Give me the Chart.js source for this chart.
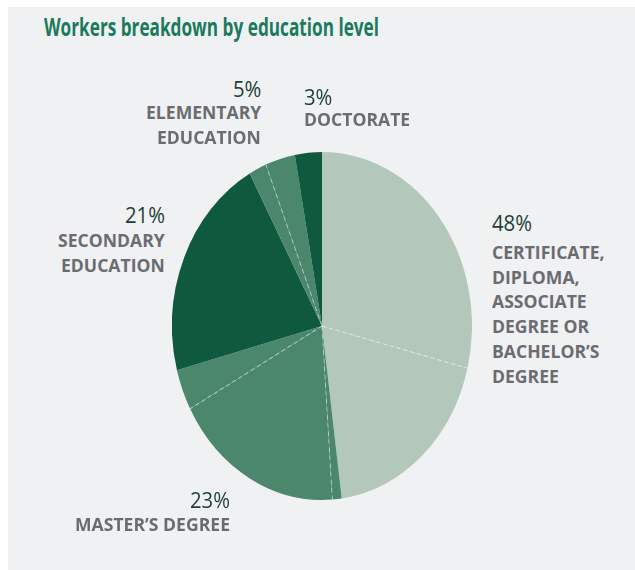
<!DOCTYPE html>
<html>
<head>
<meta charset="utf-8">
<script src="https://cdn.jsdelivr.net/npm/chart.js@4/dist/chart.umd.min.js"></script>
<style>
  html, body { margin: 0; padding: 0; background: #ffffff; }
  body { width: 635px; height: 570px; position: relative; overflow: hidden; }
  #panel { position: absolute; left: 8px; top: 7px; width: 627px; height: 563px; background: #f0f1f3; }
  #pieBox { position: absolute; left: 172px; top: 146px; width: 300px; height: 360px; }
  .t { position: absolute; white-space: nowrap; transform-origin: 0 0; }
</style>
</head>
<body>
<div id="panel"></div>
<div id="pieBox"><canvas id="c" width="300" height="360"></canvas></div>
<div id="labels"></div>
<script>
// ---- data ----
const title = 'Workers breakdown by education level';
const categories = [
  ['CERTIFICATE,', 'DIPLOMA,', 'ASSOCIATE', 'DEGREE OR', 'BACHELOR\u2019S', 'DEGREE'],
  ['MASTER\u2019S DEGREE'],
  ['SECONDARY', 'EDUCATION'],
  ['ELEMENTARY', 'EDUCATION'],
  ['DOCTORATE']
];
const shares = [48, 23, 21, 5, 3];
// the pie is split into sub-segments (separated by faint dashed lines)
const segmentCategory = [0, 0, 1, 1, 1, 2, 3, 3, 4];
const segmentValues = [28.9, 19.0, 1.0, 18.2, 3.8, 21.1, 1.9, 3.2, 2.9];

// ---- styles ----
const catColors = ['#b3c7bb', '#4b876c', '#0f5a3f', '#4b876c', '#0f5a3f'];
const Y_STRETCH = 174 / 150;

const ellipsePlugin = {
  id: 'ellipse',
  beforeDatasetsDraw(chart) {
    const ctx = chart.ctx;
    const a = chart.getDatasetMeta(0).data[0];
    ctx.save();
    ctx.translate(a.x, a.y);
    ctx.scale(1, Y_STRETCH);
    ctx.translate(-a.x, -a.y);
  },
  afterDatasetsDraw(chart) {
    const ctx = chart.ctx;
    const arcs = chart.getDatasetMeta(0).data;
    ctx.strokeStyle = 'rgba(255,255,255,0.45)';
    ctx.lineWidth = 1;
    ctx.setLineDash([4, 3]);
    arcs.forEach((arc, i) => {
      if (i === 0 || segmentCategory[i] !== segmentCategory[i - 1]) return;
      const ang = arc.startAngle;
      ctx.beginPath();
      ctx.moveTo(arc.x, arc.y);
      ctx.lineTo(arc.x + Math.cos(ang) * arc.outerRadius, arc.y + Math.sin(ang) * arc.outerRadius);
      ctx.stroke();
    });
    ctx.setLineDash([]);
    ctx.restore();
  }
};

new Chart(document.getElementById('c'), {
  type: 'pie',
  data: {
    labels: segmentCategory.map(c => categories[c].join(' ')),
    datasets: [{
      data: segmentValues,
      backgroundColor: segmentCategory.map(c => catColors[c]),
      borderWidth: 0
    }]
  },
  options: {
    responsive: false,
    animation: false,
    rotation: 0,
    plugins: { legend: { display: false }, tooltip: { enabled: false } },
    layout: { padding: 0 }
  },
  plugins: [ellipsePlugin]
});

// ---- text ----
const mctx = document.createElement('canvas').getContext('2d');
function widthOf(txt, font) { mctx.font = font; return mctx.measureText(txt).width; }
const FONT_TITLE = 'bold 25px "Open Sans"';
const FONT_LABEL = 'bold 18px "Open Sans"';
const FONT_PCT = '22px "Open Sans"';
const kTitle = 335 / widthOf(title, FONT_TITLE);
const kLabel = 155 / widthOf('MASTER\u2019S DEGREE', FONT_LABEL);
const kPct = 40 / widthOf('23%', FONT_PCT);

const holder = document.getElementById('labels');
function place(txt, x, cy, align, font, size, k, color) {
  const d = document.createElement('div');
  d.className = 't';
  d.textContent = txt;
  d.style.font = font;
  d.style.lineHeight = size + 'px';
  d.style.color = color;
  const w = widthOf(txt, font) * k;
  d.style.left = (align === 'right' ? x - w : x) + 'px';
  d.style.top = (cy - size / 2) + 'px';
  d.style.transform = 'scaleX(' + k + ')';
  holder.appendChild(d);
}
place(title, 44, 26, 'left', FONT_TITLE, 25, kTitle, '#1b7a5b');

// label anchors: [x, pctY, firstLineY, align]
const anchors = [
  [492, 222, 252, 'left'],
  [230, 499, 524, 'right'],
  [165, 214, 240, 'right'],
  [261, 88, 112, 'right'],
  [304, 96, 119, 'left']
];
const LINE = 24.7;
anchors.forEach((a, i) => {
  place(shares[i] + '%', a[0], a[1], a[3], FONT_PCT, 22, kPct, '#1d3f37');
  categories[i].forEach((ln, j) => {
    place(ln, a[0], a[2] + j * LINE, a[3], FONT_LABEL, 18, kLabel, '#6b6c70');
  });
});
</script>
</body>
</html>
